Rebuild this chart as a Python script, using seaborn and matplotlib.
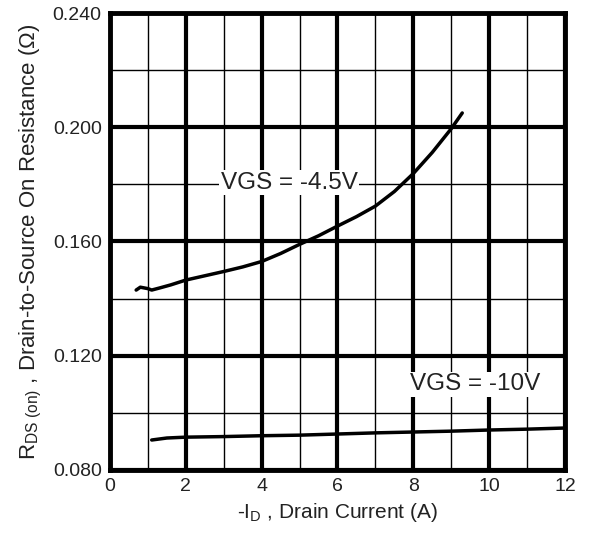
import numpy as np
import pandas as pd
import matplotlib
matplotlib.use("Agg")
import matplotlib.pyplot as plt
import seaborn as sns
from matplotlib.ticker import MultipleLocator, FormatStrFormatter

# VGS = -4.5V curve
id_45 = [0.69, 0.8, 1.0, 1.1, 1.3, 1.6, 2.0, 2.5, 3.0, 3.5, 4.0, 4.5, 5.0, 5.5, 6.0, 6.5, 7.0, 7.5, 8.0, 8.5, 9.0, 9.29]
r_45 = [0.1430, 0.1440, 0.1435, 0.1430, 0.1437, 0.1448, 0.1465, 0.1480, 0.1495, 0.1511, 0.1530, 0.1558, 0.1590, 0.1620, 0.1654, 0.1687, 0.1724, 0.1775, 0.1838, 0.1912, 0.1995, 0.2050]

# VGS = -10V curve
id_10 = [1.1, 1.5, 2.0, 3.0, 4.0, 5.0, 6.0, 7.0, 8.0, 9.0, 10.0, 11.0, 12.0]
r_10 = [0.0905, 0.0912, 0.0915, 0.0917, 0.0920, 0.0922, 0.0926, 0.0930, 0.0933, 0.0936, 0.0940, 0.0943, 0.0947]

sns.set_style("white")
plt.rcParams['font.family'] = ['Liberation Sans', 'DejaVu Sans']
plt.rcParams['mathtext.fontset'] = 'custom'
plt.rcParams['mathtext.rm'] = 'Liberation Sans'
plt.rcParams['mathtext.it'] = 'Liberation Sans'

df45 = pd.DataFrame({'id': id_45, 'r': r_45})
df10 = pd.DataFrame({'id': id_10, 'r': r_10})

fig, ax = plt.subplots(figsize=(5.9, 5.36), dpi=100)
fig.subplots_adjust(left=110/590, right=565/590, top=1-13/536, bottom=1-470/536)

ax.set_xlim(0, 12)
ax.set_ylim(0.080, 0.240)
ax.xaxis.set_major_locator(MultipleLocator(2))
ax.xaxis.set_minor_locator(MultipleLocator(1))
ax.yaxis.set_major_locator(MultipleLocator(0.040))
ax.yaxis.set_minor_locator(MultipleLocator(0.020))
ax.yaxis.set_major_formatter(FormatStrFormatter('%.3f'))
ax.grid(which='major', color='black', linewidth=3)
ax.grid(which='minor', color='black', linewidth=1)
ax.set_axisbelow(True)
ax.tick_params(which='both', length=0, labelsize=14, labelcolor='#222222', pad=6)
for s in ax.spines.values():
    s.set_linewidth(3.5)
    s.set_color('black')

sns.lineplot(data=df45, x='id', y='r', ax=ax, color='black', linewidth=2.5, zorder=3)
sns.lineplot(data=df10, x='id', y='r', ax=ax, color='black', linewidth=2.5, zorder=3)

box = dict(facecolor='white', edgecolor='none', pad=1)
ax.text(4.72, 0.1805, 'VGS = -4.5V', fontsize=17.5, color='#222222', ha='center', va='center', bbox=box, zorder=4)
ax.text(9.63, 0.1100, 'VGS = -10V', fontsize=17.5, color='#222222', ha='center', va='center', bbox=box, zorder=4)

ax.set_xlabel(r'-I$_{\rm D}$ , Drain Current (A)', fontsize=15, color='#222222', labelpad=4)
ax.set_ylabel(r'R$_{\rm DS\ (on)}$ , Drain-to-Source On Resistance ($\Omega$)', fontsize=16, color='#222222', labelpad=6)

plt.savefig('out.png', dpi=100)
